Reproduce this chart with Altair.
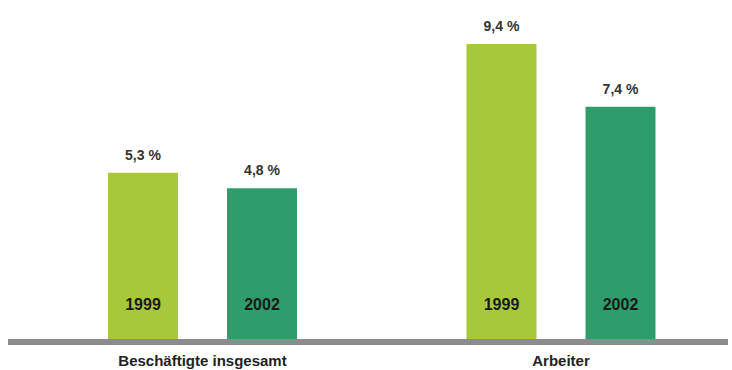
import altair as alt
import pandas as pd

# Share of employees (%) by group and year
groups = ["Beschäftigte insgesamt", "Beschäftigte insgesamt", "Arbeiter", "Arbeiter"]
years = ["1999", "2002", "1999", "2002"]
values = [5.3, 4.8, 9.4, 7.4]

group_order = ["Beschäftigte insgesamt", "Arbeiter"]
year_order = ["1999", "2002"]
year_colors = ["#A6C83A", "#2E9D6B"]

df = pd.DataFrame({"group": groups, "year": years, "value": values})
df["label"] = [f"{v:.1f}".replace(".", ",") + " %" for v in values]

font = "Liberation Sans"

x_enc = alt.X(
    "group:N",
    sort=group_order,
    title=None,
    scale=alt.Scale(paddingInner=0.34, paddingOuter=0.1909, align=0.615),
    axis=alt.Axis(
        labelAngle=0,
        domain=False,
        ticks=False,
        labelFont=font,
        labelFontSize=15,
        labelFontWeight="bold",
        labelColor="#222222",
        labelBaseline="alphabetic",
        labelPadding=26,
    ),
)
xoff_enc = alt.XOffset(
    "year:N",
    sort=year_order,
    scale=alt.Scale(paddingInner=0.412, paddingOuter=0.2),
)
y_scale = alt.Scale(domain=[0, 10.8], nice=False)

base = alt.Chart(df).encode(x=x_enc, xOffset=xoff_enc)

bars = base.mark_bar().encode(
    y=alt.Y("value:Q", scale=y_scale, axis=None),
    color=alt.Color(
        "year:N",
        sort=year_order,
        scale=alt.Scale(domain=year_order, range=year_colors),
        legend=None,
    ),
)

value_text = base.mark_text(
    font=font, fontSize=14, fontWeight="bold", color="#333333",
    baseline="alphabetic", dy=-13,
).encode(y=alt.Y("value:Q", scale=y_scale), text="label:N")

year_text = base.mark_text(
    font=font, fontSize=16, fontWeight="bold", color="#1a1a1a",
    baseline="alphabetic", dy=-29,
).encode(y=alt.datum(0, scale=y_scale), text="year:N")

baseline_rule = alt.Chart(df).mark_rule(color="#8C8C8C", strokeWidth=6).encode(
    x=alt.value(8), x2=alt.value(728), y=alt.value(342)
)

chart = (
    alt.layer(bars, value_text, year_text, baseline_rule)
    .properties(
        width=732,
        height=339,
        autosize=alt.AutoSizeParams(type="none"),
        padding={"left": 0, "right": 0, "top": 0, "bottom": 31},
        background="white",
    )
    .configure_view(stroke=None)
)

chart.save("out.html", embed_options={"renderer": "svg", "actions": False})
